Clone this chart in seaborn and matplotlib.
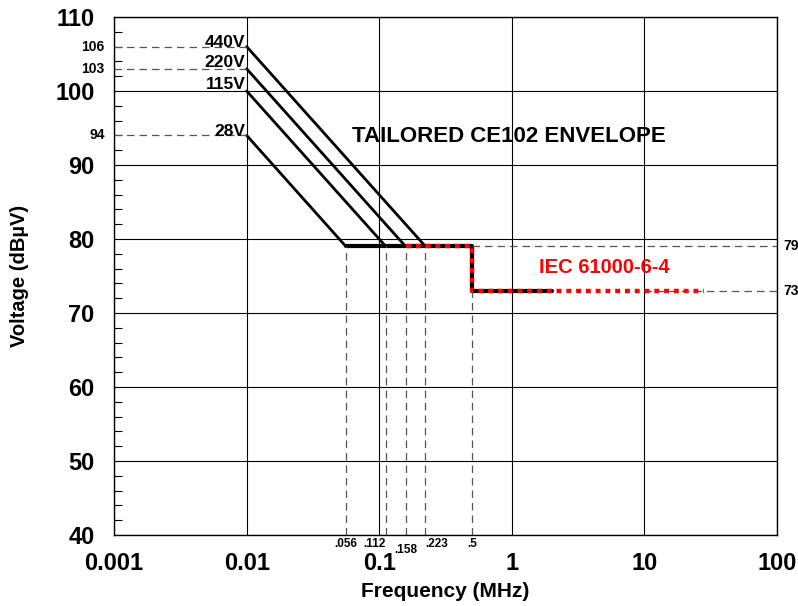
import numpy as np
import pandas as pd
import seaborn as sns
import matplotlib.pyplot as plt
from matplotlib.ticker import FixedLocator, NullLocator, NullFormatter

# curves: start at 10 kHz, fall to 79 dBuV at the corner frequency
voltages = ["440V", "220V", "115V", "28V"]
start_db = [106, 103, 100, 94]
corner_f = [0.223, 0.158, 0.112, 0.056]
flat_db = 79
step_f = 0.5
low_db = 73
black_end_f = 2.0
iec_f = [0.158, 0.5, 0.5, 28.0]
iec_db = [79, 79, 73, 73]
corner_labels = [".056", ".112", ".158", ".223", ".5"]
corner_vals = [0.056, 0.112, 0.158, 0.223, 0.5]

sns.set_style("white")
plt.rcParams['font.family'] = ['Liberation Sans', 'DejaVu Sans']
plt.rcParams['font.weight'] = 'bold'
plt.rcParams['text.color'] = 'black'
plt.rcParams['axes.labelcolor'] = 'black'
plt.rcParams['xtick.color'] = 'black'
plt.rcParams['ytick.color'] = 'black'

fig = plt.figure(figsize=(7.98, 6.06), dpi=100)
ax = fig.add_axes([0.1429, 0.1172, 0.8308, 0.8548])

rows = []
for v, s, c in zip(voltages, start_db, corner_f):
    rows.append(pd.DataFrame({"f": [0.01, c], "db": [s, flat_db], "v": v}))
curves = pd.concat(rows)
sns.lineplot(data=curves, x="f", y="db", units="v", estimator=None,
             color="black", lw=2, ax=ax)

flat = pd.DataFrame({"f": [0.056, step_f, step_f, black_end_f],
                     "db": [flat_db, flat_db, low_db, low_db]})
sns.lineplot(data=flat, x="f", y="db", color="black", lw=3, sort=False,
             estimator=None, ax=ax)
sns.lineplot(x=iec_f, y=iec_db, color="red", lw=3.2, ls=(0, (1.1, 1.1)),
             sort=False, estimator=None, ax=ax)

ax.set_xscale("log")
ax.set_xlim(0.001, 100)
ax.set_ylim(40, 110)

# dimension lines
dash = dict(color="#555555", lw=0.9, ls=(0, (6, 4)))
for f in corner_vals[:4]:
    ax.plot([f, f], [40, flat_db], **dash)
ax.plot([0.5, 0.5], [40, low_db], **dash)
for s in [106, 103, 94]:
    ax.plot([0.001, 0.01], [s, s], **dash)
ax.plot([0.5, 100], [flat_db, flat_db], **dash)
ax.plot([10, 100], [low_db, low_db], **dash)

ax.grid(True, which="major", color="black", lw=0.8)
ax.xaxis.set_major_locator(FixedLocator([0.001, 0.01, 0.1, 1, 10, 100]))
ax.set_xticklabels(["0.001", "0.01", "0.1", "1", "10", "100"])
ax.xaxis.set_minor_locator(NullLocator())
ax.xaxis.set_minor_formatter(NullFormatter())
ax.yaxis.set_minor_locator(FixedLocator(np.arange(40, 111, 2)))
ax.tick_params(axis="both", which="major", labelsize=17, length=0, pad=12.5)
ax.tick_params(axis="y", which="major", pad=14)
ax.tick_params(axis="y", which="minor", direction="in", length=6,
               left=True, width=0.8)
for sp in ax.spines.values():
    sp.set_color("black")
    sp.set_linewidth(1)

ax.set_xlabel("Frequency (MHz)", fontsize=15, fontweight="bold", labelpad=5)
ax.set_ylabel("Voltage (dB\u00b5V)", fontsize=14.5, fontweight="bold",
              labelpad=19)

# labels
label_y = [106.6, 103.9, 100.9, 94.5]
for v, y in zip(voltages, label_y):
    ax.text(0.0098, y, v, ha="right", va="center", fontsize=12.5,
            fontweight="bold")
for s in [106, 103, 94]:
    ax.text(0.00085, s, str(s), ha="right", va="center", fontsize=10,
            fontweight="bold", clip_on=False)
ax.text(112, flat_db, "79", ha="left", va="center", fontsize=10,
        fontweight="bold", clip_on=False)
ax.text(112, low_db, "73", ha="left", va="center", fontsize=10,
        fontweight="bold", clip_on=False)
offsets = [0, 0, -0.8, 0, 0]
for lab, f, o in zip(corner_labels, corner_vals, offsets):
    ha = "right" if lab == ".112" else ("left" if lab == ".223" else "center")
    ax.text(f, 39.6 + o, lab, ha=ha, va="top", fontsize=8.5,
            fontweight="bold", clip_on=False)
ax.text(0.95, 93.8, "TAILORED CE102 ENVELOPE", ha="center", va="center",
        fontsize=16, fontweight="bold")
ax.text(5.0, 76.1, "IEC 61000-6-4", ha="center", va="center",
        fontsize=14.5, fontweight="bold", color="red")

fig.savefig("out.png", dpi=100)
